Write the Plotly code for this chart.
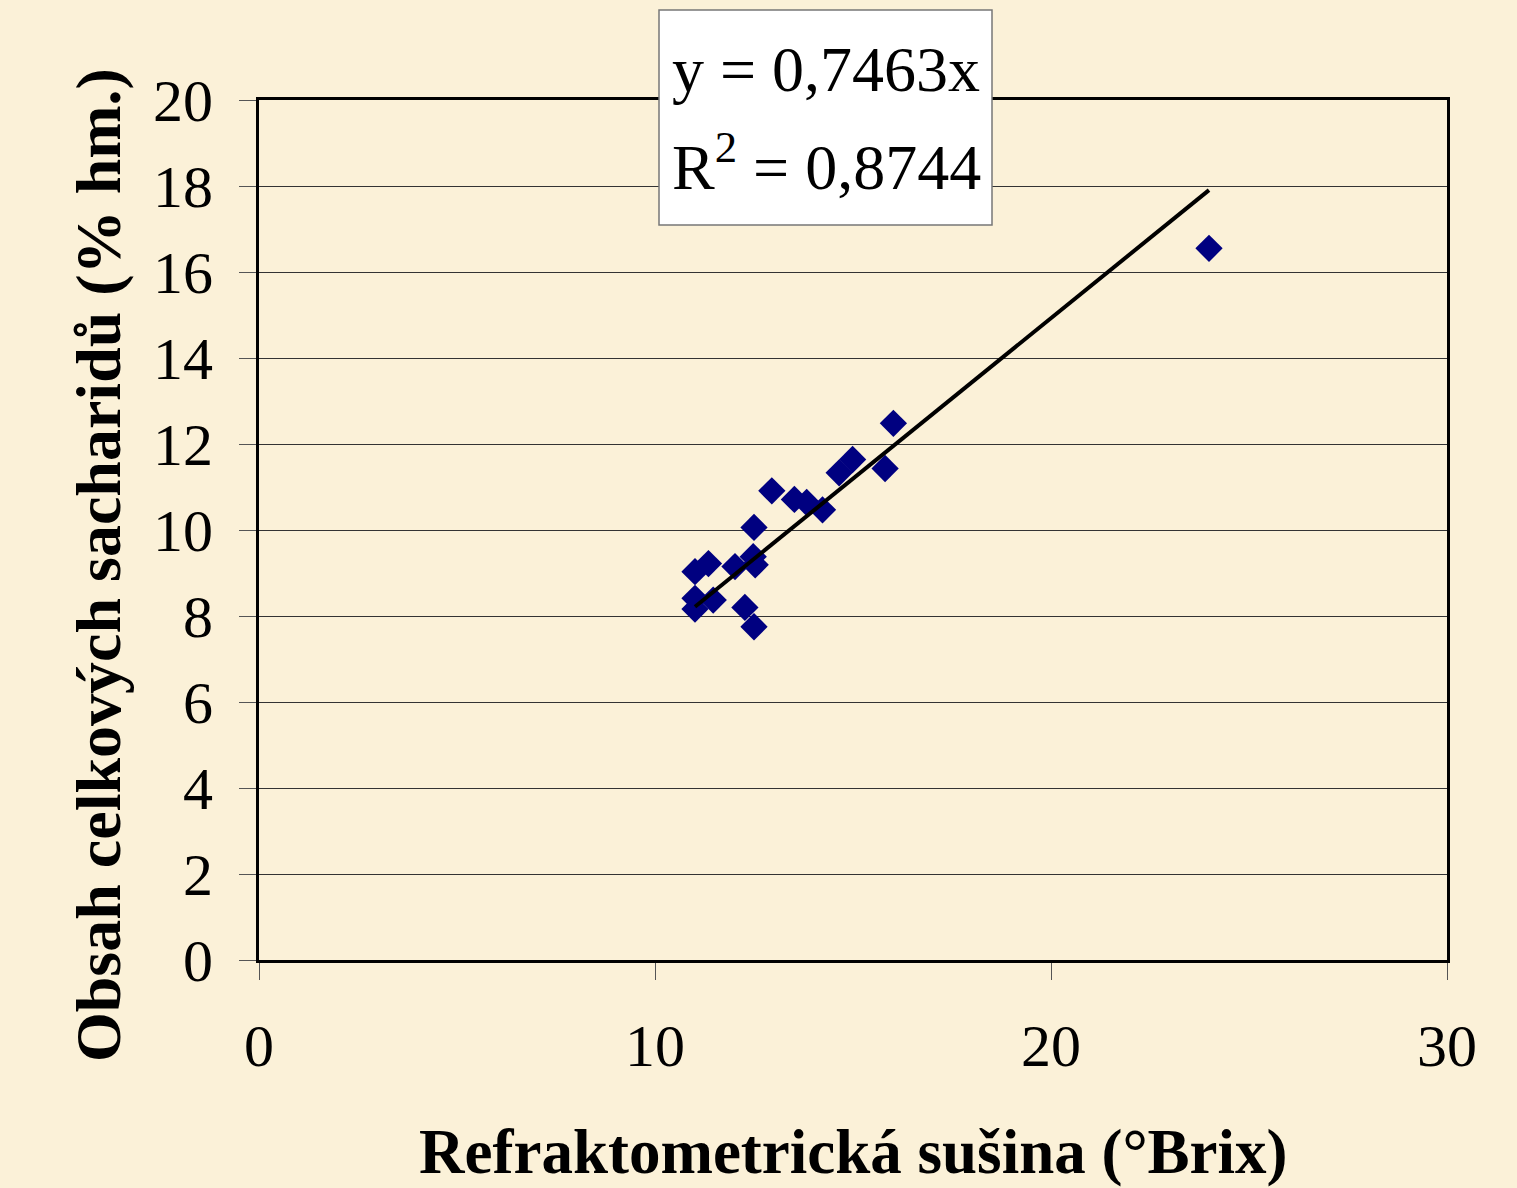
import plotly.graph_objects as go

# Data
brix = [16.02, 14.99, 14.65, 15.81, 12.95, 13.52, 13.83, 14.23, 12.50, 11.35,
        11.01, 12.02, 12.48, 12.53, 11.01, 11.47, 11.01, 12.27, 12.50, 23.99]
sugars = [12.48, 11.64, 11.33, 11.43, 10.91, 10.71, 10.64, 10.47, 10.06, 9.22,
          9.03, 9.15, 9.38, 9.19, 8.41, 8.37, 8.16, 8.20, 7.75, 16.55]
slope = 0.7463
r2_text = "0,8744"
x_ticks = [0, 10, 20, 30]
y_ticks = [0, 2, 4, 6, 8, 10, 12, 14, 16, 18, 20]
x_title = "Refraktometrická sušina (°Brix)"
y_title = "Obsah celkových sacharidů (% hm.)"

trend_x = [min(brix), max(brix)]
trend_y = [slope * v for v in trend_x]

FONT = "Liberation Serif, Times New Roman, serif"
BG = "#FBF1D8"
W, H = 1517, 1188
L, R, T, B = 259, 70, 100, 228
PW, PH = W - L - R, H - T - B


def px_to_paper_x(px):
    return (px - L) / PW


def px_to_paper_y(py):
    return (H - B - py) / PH


fig = go.Figure()
fig.add_trace(go.Scatter(
    x=brix, y=sugars, mode="markers",
    marker=dict(symbol="diamond", size=21, color="#000080",
                line=dict(width=0)),
    showlegend=False, hoverinfo="x+y"))
fig.add_trace(go.Scatter(
    x=trend_x, y=trend_y, mode="lines",
    line=dict(color="black", width=4),
    showlegend=False, hoverinfo="skip"))

fig.update_layout(
    width=W, height=H,
    margin=dict(l=L, r=R, t=T, b=B),
    paper_bgcolor=BG, plot_bgcolor=BG,
    font=dict(family=FONT, size=60, color="black"),
    xaxis=dict(
        range=[0, 30], tickvals=x_ticks, ticktext=[str(v) for v in x_ticks],
        showgrid=False, zeroline=False,
        showline=True, linecolor="black", linewidth=3, mirror=True,
        ticks="outside", ticklen=17, tickwidth=1, tickcolor="#555555",
        ticklabelstandoff=14,
    ),
    yaxis=dict(
        range=[0, 20], tickvals=y_ticks, ticktext=[str(v) for v in y_ticks],
        showgrid=True, gridcolor="#333333", gridwidth=1.3, zeroline=False,
        showline=True, linecolor="black", linewidth=3, mirror=True,
        ticks="outside", ticklen=17, tickwidth=1, tickcolor="#555555",
        ticklabelstandoff=14,
    ),
)

# Axis titles
fig.add_annotation(xref="paper", yref="paper",
                   x=px_to_paper_x(853), y=px_to_paper_y(1152),
                   text="<b>" + x_title + "</b>", showarrow=False,
                   font=dict(family=FONT, size=63),
                   xanchor="center", yanchor="middle")
fig.add_annotation(xref="paper", yref="paper",
                   x=px_to_paper_x(98), y=px_to_paper_y(565),
                   text="<b>" + y_title + "</b>", showarrow=False,
                   textangle=-90, font=dict(family=FONT, size=64),
                   xanchor="center", yanchor="middle")

# Equation box
fig.add_shape(type="rect", xref="paper", yref="paper",
              x0=px_to_paper_x(659), x1=px_to_paper_x(992),
              y0=px_to_paper_y(225), y1=px_to_paper_y(10),
              fillcolor="white", line=dict(color="#777777", width=1.5),
              layer="above")
fig.add_annotation(xref="paper", yref="paper",
                   x=px_to_paper_x(826), y=px_to_paper_y(70),
                   text="y = " + f"{slope}".replace(".", ",") + "x",
                   showarrow=False, font=dict(family=FONT, size=64),
                   xanchor="center", yanchor="middle")
fig.add_annotation(xref="paper", yref="paper",
                   x=px_to_paper_x(826), y=px_to_paper_y(163),
                   text="R<sup>2</sup> = " + r2_text,
                   showarrow=False, font=dict(family=FONT, size=64),
                   xanchor="center", yanchor="middle")

fig.write_html("out.html",
               config={"displayModeBar": False},
               post_script="document.body.style.margin='0';"
                           "document.body.style.background='" + BG + "';")
